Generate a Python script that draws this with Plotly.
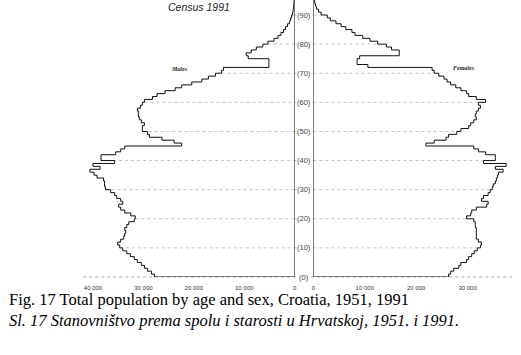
import plotly.graph_objects as go

ages = list(range(0, 96))

males = [27800, 28400, 29200, 29800, 30400, 31200, 31800, 32600, 33300, 34100,
         34700, 35100, 34500, 33900, 33700, 33500, 33700, 33300, 32900, 31800,
         31600, 32500, 33700, 34500, 34900, 34100, 34500, 35300, 35700, 36500,
         37500, 37700, 37700, 37900, 39200, 39800, 40600, 38600, 40000, 35700,
         38400, 38400, 35500, 34500, 33700, 22400, 23900, 26300, 28800, 29200,
         30200, 30200, 29800, 30400, 30800, 31000, 31000, 31200, 30600, 30200,
         29800, 28200, 27300, 25700, 23700, 22400, 20400, 18400, 17100, 15700,
         14500, 14100, 5100, 5100, 5100, 9200, 9600, 8600, 7600, 6300,
         5300, 4100, 3300, 2700, 2200, 1800, 1400, 1000, 800, 600,
         400, 300, 200, 150, 100, 50]

females = [26300, 26700, 27300, 28300, 28700, 29800, 30200, 30800, 31300, 31900,
           32500, 32700, 32100, 31700, 31700, 31700, 31700, 31500, 31500, 31200,
           29800, 30600, 30800, 31700, 33700, 34000, 32700, 33100, 34000, 34400,
           34800, 35000, 35400, 35600, 35800, 36000, 36900, 35400, 37500, 33100,
           35400, 35400, 33500, 32100, 31200, 21900, 23500, 25800, 26300, 27900,
           28700, 30200, 30600, 31200, 31700, 31500, 31700, 32100, 32500, 32100,
           33500, 31700, 30200, 29800, 28700, 27700, 26700, 26000, 25400, 24400,
           23500, 23100, 10600, 8500, 8500, 9000, 16700, 16700, 15200, 14200,
           12500, 11000, 9600, 8100, 7500, 6300, 5400, 4400, 3300, 2700,
           1500, 1000, 600, 400, 250, 150]

grid_ages = [0, 10, 20, 30, 40, 50, 60, 70, 80, 90]
male_ticks = [0, 10000, 20000, 30000, 40000]
female_ticks = [0, 10000, 20000, 30000]
tick_text = {0: "0", 10000: "10 000", 20000: "20 000", 30000: "30 000", 40000: "40 000"}

W, H = 521, 355
PLOT_BOTTOM = 277

def step_xy(vals):
    xs = [0] + vals + [vals[-1]]
    ys = [0] + ages + [ages[-1] + 1]
    return xs, ys

fig = go.Figure()
mx, my = step_xy(males)
fx, fy = step_xy(females)
fig.add_trace(go.Scatter(x=mx, y=my, mode="lines", line=dict(color="#111", width=1, shape="vh"),
                         xaxis="x", yaxis="y", showlegend=False, hoverinfo="skip"))
fig.add_trace(go.Scatter(x=fx, y=fy, mode="lines", line=dict(color="#111", width=1, shape="vh"),
                         xaxis="x2", yaxis="y", showlegend=False, hoverinfo="skip"))

shapes = []
grid_style = dict(color="#b5b5b5", width=0.8, dash="dot")
for a in grid_ages[1:]:
    shapes.append(dict(type="line", xref="x", yref="y", x0=males[a], x1=0, y0=a, y1=a, line=grid_style, layer="below"))
    shapes.append(dict(type="line", xref="x2", yref="y", x0=0, x1=females[a], y0=a, y1=a, line=grid_style, layer="below"))
    shapes.append(dict(type="line", xref="paper", yref="y", x0=294 / W, x1=313 / W, y0=a, y1=a, line=grid_style, layer="below"))
# baseline
shapes.append(dict(type="line", xref="paper", yref="paper", x0=80 / W, x1=516 / W, y0=0, y1=0,
                   line=dict(color="#999", width=0.8, dash="dot"), layer="below"))
# zero axes
shapes.append(dict(type="line", xref="x", yref="paper", x0=0, x1=0, y0=0, y1=1, line=dict(color="#111", width=1)))
shapes.append(dict(type="line", xref="x2", yref="paper", x0=0, x1=0, y0=0, y1=1, line=dict(color="#111", width=1)))

annotations = []
for a in grid_ages:
    annotations.append(dict(x=303.5 / W, xref="paper", y=a, yref="y", text="(%d)" % a, showarrow=False,
                            font=dict(family="Liberation Sans", size=7.5, color="#444"), bgcolor="white",
                            borderpad=0, xanchor="center", yanchor="middle"))

def py(p):
    return (PLOT_BOTTOM - p) / PLOT_BOTTOM

annotations += [
    dict(x=197 / W, y=py(7), xref="paper", yref="paper", text="<i>Census 1991</i>", showarrow=False,
         font=dict(family="Liberation Sans", size=10.5, color="#222"), xanchor="center", yanchor="middle"),
    dict(x=178 / W, y=py(69), xref="paper", yref="paper", text="<i><b>Males</b></i>", showarrow=False,
         font=dict(family="Liberation Serif", size=6, color="#222"), xanchor="center", yanchor="middle"),
    dict(x=465 / W, y=py(68), xref="paper", yref="paper", text="<i><b>Females</b></i>", showarrow=False,
         font=dict(family="Liberation Serif", size=6, color="#222"), xanchor="center", yanchor="middle"),
    dict(x=3 / W, y=py(299), xref="paper", yref="paper",
         text="Fig. 17 Total population by age and sex, Croatia, 1951, 1991", showarrow=False,
         font=dict(family="Liberation Serif", size=16.5, color="black"), xanchor="left", yanchor="middle"),
    dict(x=3 / W, y=py(320), xref="paper", yref="paper",
         text="<i>Sl. 17 Stanovništvo prema spolu i starosti u Hrvatskoj, 1951. i 1991.</i>", showarrow=False,
         font=dict(family="Liberation Serif", size=16.5, color="black"), xanchor="left", yanchor="middle"),
]

axis_common = dict(showgrid=False, zeroline=False, showline=False, ticks="",
                   tickfont=dict(family="Liberation Sans", size=6, color="#333"), ticklabelstandoff=6)

fig.update_layout(
    width=W, height=H,
    margin=dict(l=0, r=0, t=0, b=H - PLOT_BOTTOM),
    paper_bgcolor="white", plot_bgcolor="white",
    xaxis=dict(domain=[85 / W, 294 / W], range=[(294 - 85) / 51 * 10000, 0],
               tickvals=male_ticks, ticktext=[tick_text[v] for v in male_ticks], **axis_common),
    xaxis2=dict(domain=[313 / W, 516 / W], range=[0, (516 - 313) / 52 * 10000], anchor="y",
                tickvals=female_ticks, ticktext=[tick_text[v] for v in female_ticks], **axis_common),
    yaxis=dict(range=[0, PLOT_BOTTOM / 2.911], showgrid=False, zeroline=False, showticklabels=False,
               showline=False, domain=[0, 1]),
    shapes=shapes, annotations=annotations, showlegend=False,
)

fig.write_html("out.html")
